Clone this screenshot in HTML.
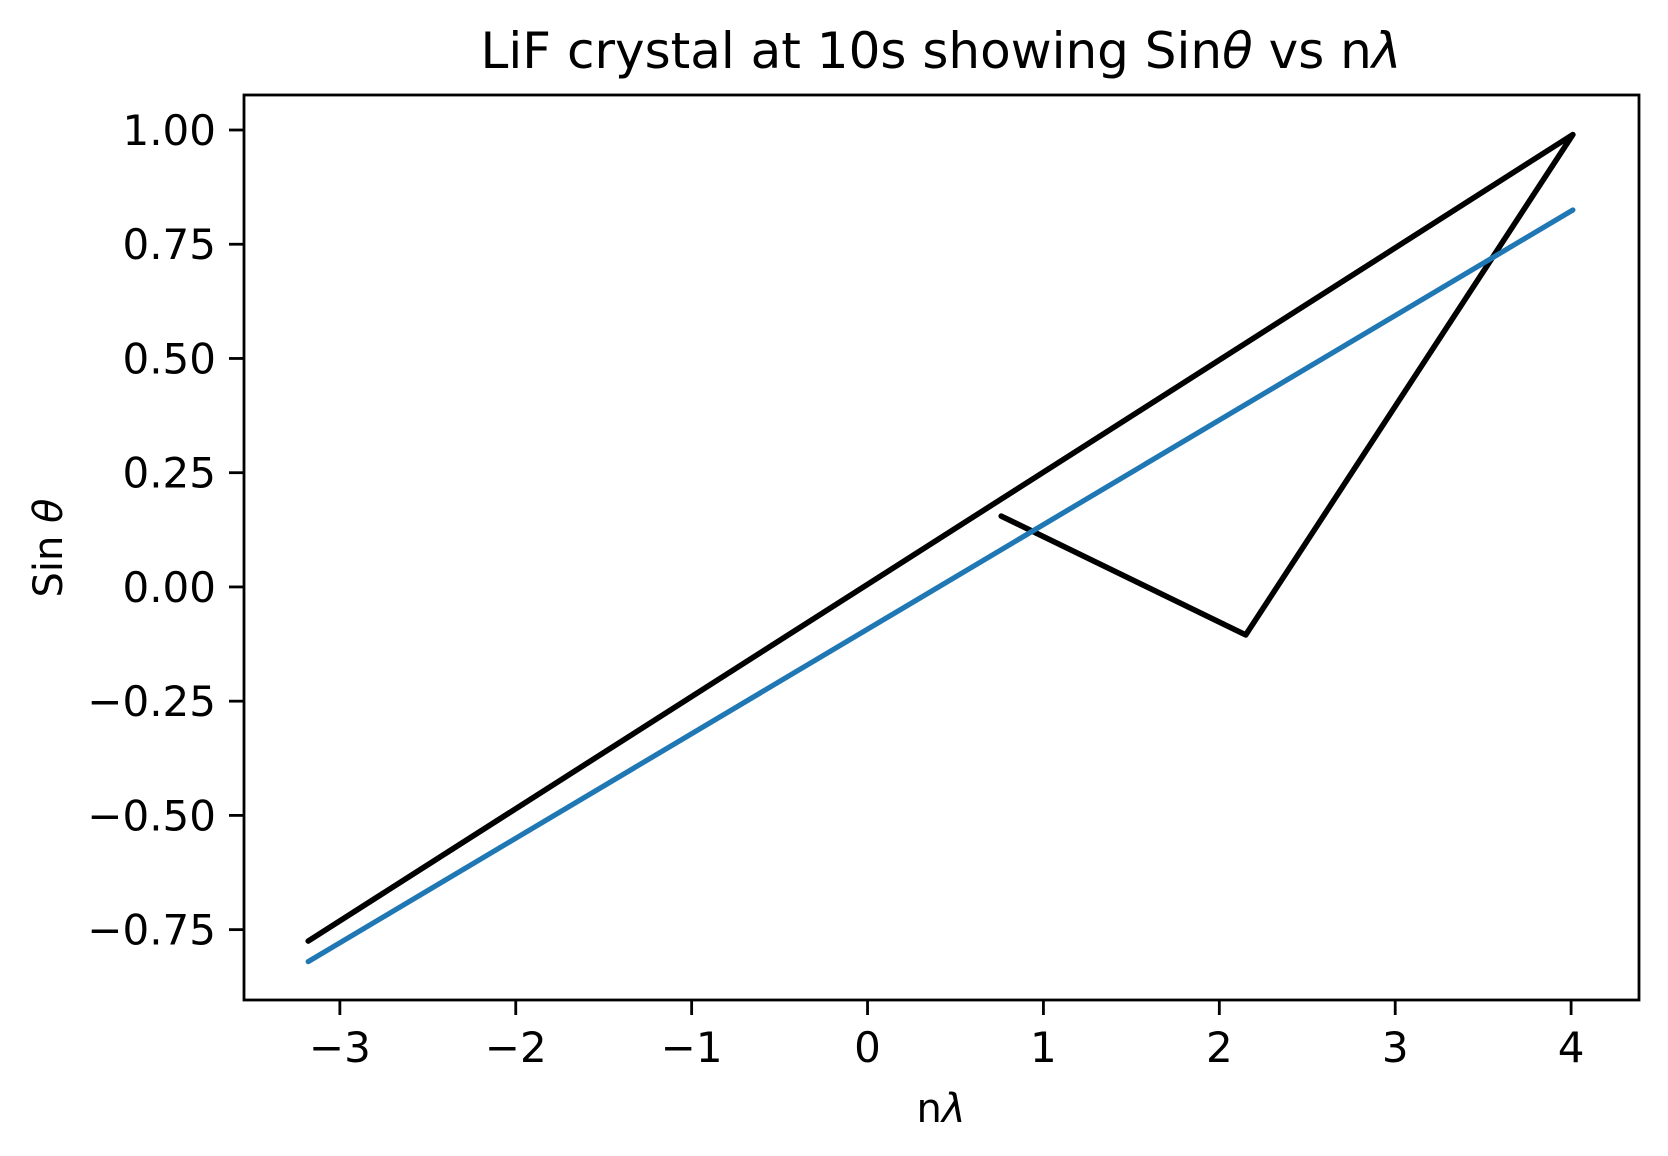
<!DOCTYPE html>
<html><head><meta charset="utf-8"><style>body{margin:0;background:#fff}svg{display:block}text{font-family:"DejaVu Sans","Liberation Sans",sans-serif;fill:#000}</style></head>
<body>
<svg id="chart" width="1668" height="1156" viewBox="0 0 1668 1156" xmlns="http://www.w3.org/2000/svg">
<rect width="1668" height="1156" fill="#fff"/>
<text x="941" y="68" font-size="50" text-anchor="middle">LiF crystal at 10s showing Sin<tspan font-style="italic">θ</tspan> vs n<tspan font-style="italic">λ</tspan></text>
<g id="plot"></g>
<text x="941" y="1122" font-size="40" text-anchor="middle">n<tspan font-style="italic">λ</tspan></text>
<text transform="translate(62,548) rotate(-90)" font-size="40" text-anchor="middle">Sin <tspan font-style="italic">θ</tspan></text>
</svg>
<script>
const xTicks = [-3,-2,-1,0,1,2,3,4];
const yTicks = [1.00,0.75,0.50,0.25,0.00,-0.25,-0.50,-0.75];
const blackX = [-3.18, 4.01, 2.15, 0.76];
const blackY = [-0.775, 0.99, -0.105, 0.155];
const blueX = [-3.18, 4.01];
const blueY = [-0.82, 0.825];

const L=244,R=1639,T=95,B=1000;
const xmin=-3.545,xmax=4.386,ymin=-0.904,ymax=1.0766;
const sx=v=>L+(v-xmin)/(xmax-xmin)*(R-L);
const sy=v=>B-(v-ymin)/(ymax-ymin)*(B-T);
const NS="http://www.w3.org/2000/svg";
const g=document.getElementById('plot');
function mk(t,a){const e=document.createElementNS(NS,t);for(const k in a)e.setAttribute(k,a[k]);g.appendChild(e);return e;}
function fmt(v){const s=v.toFixed(2);return v<0?'\u2212'+s.slice(1):s;}

xTicks.forEach(v=>{
  const l=mk('line',{x1:sx(v),x2:sx(v),y1:B,y2:B+15,stroke:'#000','stroke-width':2.8});
  
  
  const t=mk('text',{x:sx(v),y:B+62,'font-size':42,'text-anchor':'middle'});
  t.textContent=v<0?'\u2212'+(-v):String(v);
  
  
});
yTicks.forEach(v=>{
  const l=mk('line',{x1:L-15,x2:L,y1:sy(v),y2:sy(v),stroke:'#000','stroke-width':2.8});
  
  
  const t=mk('text',{x:L-28,y:sy(v)+15,'font-size':42,'text-anchor':'end'});
  t.textContent=fmt(v);
  
  
});
function line(xs,ys,c,w,name){
  const p=mk('polyline',{points:xs.map((x,i)=>sx(x)+','+sy(ys[i])).join(' '),fill:'none',stroke:c,'stroke-width':w,'stroke-linejoin':'round','stroke-linecap':'round'});
  
  
}
line(blackX,blackY,'#000',5.6,'black-series-line');
line(blueX,blueY,'#1f77b4',5.2,'blue-fit-line');
const f=mk('rect',{x:L,y:T,width:R-L,height:B-T,fill:'none',stroke:'#000','stroke-width':2.8});


</script>
</body></html>
